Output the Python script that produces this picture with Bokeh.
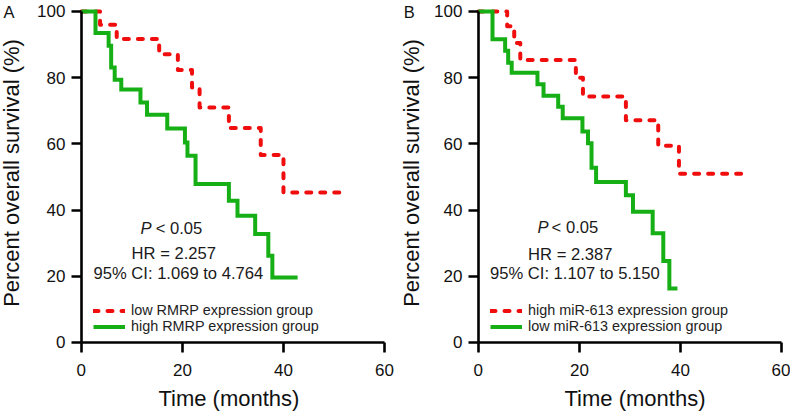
import math
from bokeh.plotting import figure
from bokeh.models import Range1d, Label, Legend, LegendItem
from bokeh.layouts import row
from bokeh.embed import file_html
from bokeh.resources import INLINE

FONT = "Liberation Sans"
RED = "#f00d0d"
GREEN = "#16b016"

x_ticks = [0, 20, 40, 60]
y_ticks = [0, 20, 40, 60, 80, 100]

# Panel A: RMRP
a_low_t = [0, 3.7, 7.0, 15.4, 19.1, 21.9, 23.4, 29.2, 35.5, 40.0, 52.0]
a_low_s = [100, 96.0, 91.7, 87.1, 82.3, 77.0, 71.0, 64.8, 56.6, 45.3, 45.3]
a_high_t = [0, 2.8, 5.4, 5.9, 6.6, 7.9, 11.7, 13.0, 17.0, 20.5, 21.0, 22.6, 29.2, 30.9, 34.4, 37.0, 37.8, 42.8]
a_high_s = [100, 93.5, 89.6, 83.1, 79.4, 76.4, 72.5, 68.8, 64.6, 60.4, 56.4, 47.9, 42.8, 38.3, 32.8, 26.2, 19.6, 19.6]

# Panel B: miR-613
b_high_t = [0, 5.7, 7.1, 8.3, 19.3, 20.7, 29.2, 35.6, 39.7, 52.5]
b_high_s = [100, 95.5, 90.5, 85.3, 80.0, 74.3, 67.1, 59.4, 51.0, 51.0]
b_low_t = [0, 2.8, 5.3, 5.9, 6.6, 11.7, 12.9, 15.8, 16.7, 20.6, 21.7, 22.4, 23.3, 29.2, 30.6, 34.5, 36.6, 37.8, 39.4]
b_low_s = [100, 91.6, 88.1, 84.5, 81.5, 78.0, 74.5, 71.2, 67.7, 63.7, 60.2, 52.8, 48.5, 44.5, 39.5, 33.0, 24.6, 16.3, 16.3]

HEIGHT = 414
PX_PER_MONTH = 5.053
X_START = -16.0     # room left of the y axis for tick labels, axis title and panel letter
Y_START = -21.75    # room below the x axis for tick labels and axis title
Y_END = 103.3

panel_a = dict(letter="A", letter_xy=(-15.4, 99.76),
               red_t=a_low_t, red_s=a_low_s, green_t=a_high_t, green_s=a_high_s,
               red_label="low RMRP expression group", green_label="high RMRP expression group",
               p_xy=(11.7, 34.4), lt_x=14.7, hr="HR = 2.257", hr_xy=(18.3, 26.8),
               ci="95% CI: 1.069 to 4.764", ci_xy=(19.2, 20.7),
               xlab_x=29.2, ylab_x=-13.8, width=397)
panel_b = dict(letter="B", letter_xy=(-14.75, 99.76),
               red_t=b_high_t, red_s=b_high_s, green_t=b_low_t, green_s=b_low_s,
               red_label="high miR-613 expression group", green_label="low miR-613 expression group",
               p_xy=(11.7, 34.7), lt_x=14.5, hr="HR = 2.387", hr_xy=(18.2, 26.7),
               ci="95% CI: 1.107 to 5.150", ci_xy=(19.1, 20.8),
               xlab_x=31.0, ylab_x=-13.3, width=393)


def make_panel(cfg):
    x_end = X_START + cfg["width"] / PX_PER_MONTH
    p = figure(width=cfg["width"], height=HEIGHT, output_backend="svg", toolbar_location=None,
               x_range=Range1d(X_START, x_end), y_range=Range1d(Y_START, Y_END),
               min_border_left=0, min_border_right=0, min_border_top=0, min_border_bottom=0,
               background_fill_color="white", border_fill_color="white")
    p.outline_line_color = None
    p.grid.visible = False

    for ax in (p.xaxis[0], p.yaxis[0]):
        ax.axis_line_width = 2.6
        ax.axis_line_color = "black"
        ax.major_tick_line_width = 2.6
        ax.major_tick_line_color = "black"
        ax.major_tick_out = 10
        ax.major_tick_in = 0
        ax.minor_tick_line_color = None
        ax.major_label_text_font = FONT
        ax.major_label_text_font_size = "17px"
        ax.major_label_text_color = "#111111"
        ax.fixed_location = 0
    p.xaxis.ticker = x_ticks
    p.yaxis.ticker = y_ticks
    p.xaxis.bounds = (0, 60)
    p.yaxis.bounds = (0, 100)
    p.xaxis.major_label_standoff = 12
    p.yaxis.major_label_standoff = 6

    r_red = p.step(cfg["red_t"], cfg["red_s"], mode="after", line_color=RED, line_width=4,
                   line_dash="5 9", line_cap="round", line_join="round")
    r_green = p.step(cfg["green_t"], cfg["green_s"], mode="after", line_color=GREEN, line_width=4,
                     line_join="miter")

    legend = Legend(items=[LegendItem(label=cfg["red_label"], renderers=[r_red]),
                           LegendItem(label=cfg["green_label"], renderers=[r_green])],
                    location=(93, 80), label_text_font=FONT, label_text_font_size="14.4px",
                    label_text_color="#222222", glyph_width=32, glyph_height=15, label_height=15,
                    spacing=0, padding=0, margin=0, label_standoff=6,
                    border_line_color=None, background_fill_alpha=0)
    p.add_layout(legend)

    # axis titles
    title_style = dict(text_font=FONT, text_font_size="22px", text_color="#111111", text_baseline="middle",
                       text_align="center")
    p.add_layout(Label(x=cfg["xlab_x"], y=-17.0, text="Time (months)", **title_style))
    p.add_layout(Label(x=cfg["ylab_x"], y=51.2, text="Percent overall survival (%)", angle=math.pi / 2,
                       **title_style))

    common = dict(text_font=FONT, text_font_size="16.6px", text_color="#1a1a1a", text_baseline="middle")
    p.add_layout(Label(x=cfg["p_xy"][0], y=cfg["p_xy"][1], text="P", text_align="left",
                       text_font_style="italic", **common))
    p.add_layout(Label(x=cfg["lt_x"], y=cfg["p_xy"][1], text="< 0.05", text_align="left", **common))
    p.add_layout(Label(x=cfg["hr_xy"][0], y=cfg["hr_xy"][1], text=cfg["hr"], text_align="center", **common))
    p.add_layout(Label(x=cfg["ci_xy"][0], y=cfg["ci_xy"][1], text=cfg["ci"], text_align="center", **common))
    p.add_layout(Label(x=cfg["letter_xy"][0], y=cfg["letter_xy"][1], text=cfg["letter"],
                       text_align="left", text_baseline="middle",
                       text_font=FONT, text_font_size="16.5px", text_color="#111111"))
    return p


pa = make_panel(panel_a)
pb = make_panel(panel_b)
layout = row(pa, pb)

open("out.html", "w").write(file_html(layout, INLINE))
